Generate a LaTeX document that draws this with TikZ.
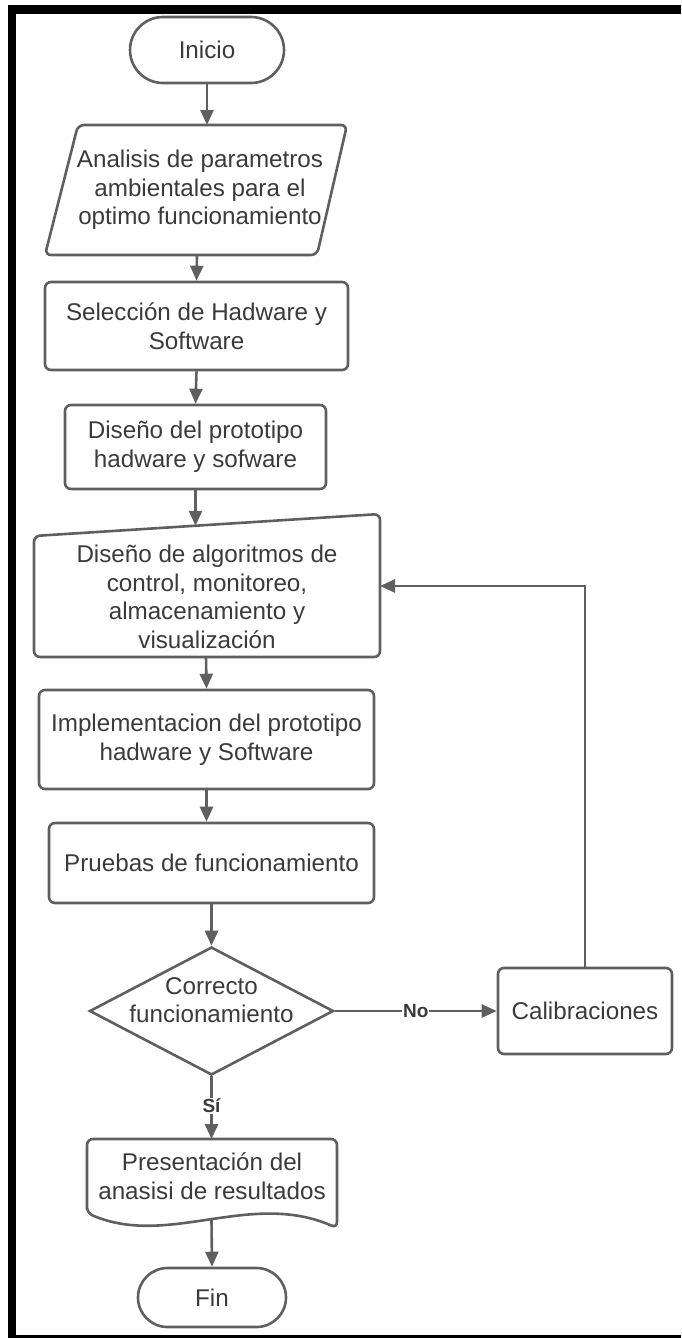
\documentclass[tikz,border=0pt]{standalone}
\usepackage{fontspec}
\setmainfont{Liberation Sans}
\usetikzlibrary{arrows.meta,shapes.geometric}
\definecolor{edge}{RGB}{95,95,95}
\definecolor{ink}{RGB}{58,58,58}
\tikzset{
  box/.style={draw=edge, line width=2.6pt, rounded corners=6pt, align=center,
              text=ink, inner sep=0pt},
  term/.style={box, rounded corners=#1},
  txt/.style={align=center, text=ink, inner sep=0pt},
  outline/.style={draw=edge, line width=2.6pt, rounded corners=6pt},
  flow/.style={draw=edge, line width=2.6pt, -{Triangle[length=15pt,width=13pt]}},
  tag/.style={fill=white, text=ink, inner sep=1pt, font=\fontsize{19}{21}\selectfont\bfseries}
}
\begin{document}
\begin{tikzpicture}[x=1pt, y=-1pt, font=\fontsize{24.2}{28.6}\selectfont]
\useasboundingbox (0,0) rectangle (681,1338);
% frame bars
\fill[black] (8,5) rectangle (681,14);
\fill[black] (8,5) rectangle (16,1338);
\fill[black] (8,1335) rectangle (681,1338);

% start
\node[term=33pt, minimum width=154pt, minimum height=66pt] (inicio) at (207,50) {Inicio};

% input (parallelogram)
\draw[outline] (78,125) -- (347,125) -- (317,255) -- (45,255) -- cycle;
\node[txt] (anal) at (200,190) {Analisis de parametros\\ambientales para el\\optimo funcionamiento};
\coordinate (anal-n) at (207,125);
\coordinate (anal-s) at (197,255);

% hardware / software selection
\node[box, minimum width=303pt, minimum height=88pt] (sel) at (196.5,326) {Selección de Hadware y\\Software};

% prototype design
\node[box, minimum width=261pt, minimum height=84pt] (proto) at (195.5,447) {Diseño del prototipo\\hadware y sofware};

% algorithms (manual input)
\draw[outline] (34,536) -- (380,514) -- (380,657) -- (34,657) -- cycle;
\node[txt] (algo) at (207,597) {Diseño de algoritmos de\\control, monitoreo,\\almacenamiento y\\visualización};
\coordinate (algo-n) at (195.5,525.8);
\coordinate (algo-e) at (380,586);
\coordinate (algo-s) at (206,657);

% implementation
\node[box, minimum width=335pt, minimum height=99pt] (impl) at (206.5,739.5) {Implementacion del prototipo\\hadware y Software};

% tests
\node[box, minimum width=325pt, minimum height=80pt] (prueba) at (211.5,863) {Pruebas de funcionamiento};

% decision
\node[shape=diamond, draw=edge, line width=2.6pt, minimum width=244pt, minimum height=128pt, inner sep=0pt] (dec) at (211.5,1011) {};
\node[txt] (dectxt) at (211.5,1000) {Correcto\\funcionamiento};

% calibration
\node[box, minimum width=174pt, minimum height=86pt] (calib) at (585,1011) {Calibraciones};

% document
\draw[outline] (87,1213) -- (87,1139) -- (337,1139) -- (337,1228)
  .. controls (250,1190) and (168,1248) .. (87,1213) -- cycle;
\node[txt] (doc) at (212,1176) {Presentación del\\anasisi de resultados};
\coordinate (doc-n) at (211.5,1139);
\coordinate (doc-s) at (211.5,1220);

% end
\node[term=29.5pt, minimum width=148pt, minimum height=59pt] (fin) at (212,1297.5) {Fin};

% connectors
\draw[flow] (inicio.south) -- (anal-n);
\draw[flow] (anal-s) -- (sel.north);
\draw[flow] (sel.south) -- (proto.north);
\draw[flow] (proto.south) -- (algo-n);
\draw[flow] (algo-s) -- (impl.north);
\draw[flow] (impl.south) -- (impl.south |- prueba.north);
\draw[flow] (prueba.south) -- (dec.north);
\draw[flow] (dec.east) -- node[tag] {No} (calib.west);
\draw[flow] (calib.north) |- (algo-e);
\draw[flow] (dec.south) -- node[tag, pos=0.47] {Sí} (doc-n);
\draw[flow] (doc-s) -- (fin.north);
\end{tikzpicture}
\end{document}
